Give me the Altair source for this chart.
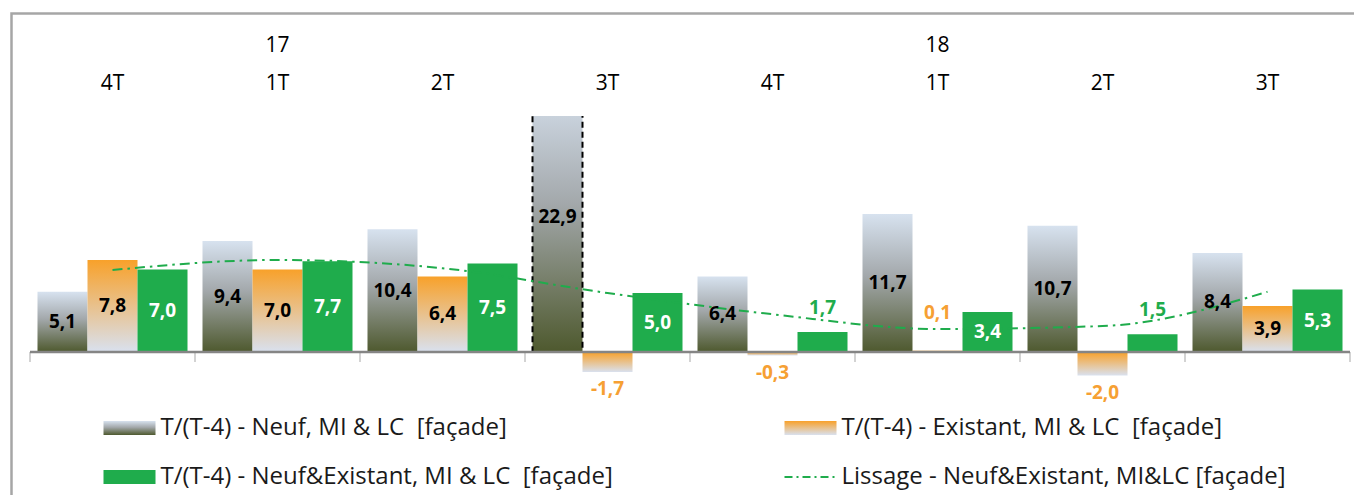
import altair as alt
import pandas as pd

# ---------------- data ----------------
CATEGORIES = ["16 4T", "17 1T", "17 2T", "17 3T", "17 4T", "18 1T", "18 2T", "18 3T"]
YEAR_LABELS = ["", "17", "", "", "", "18", "", ""]
SERIES = [
    "T/(T-4) - Neuf, MI & LC\u00a0 [façade]",
    "T/(T-4) - Existant, MI & LC\u00a0 [façade]",
    "T/(T-4) - Neuf&Existant, MI & LC\u00a0 [façade]",
]
LINE_LABEL = "Lissage - Neuf&Existant, MI&LC [façade]"
NEUF = [5.1, 9.4, 10.4, 22.9, 6.4, 11.7, 10.7, 8.4]
EXISTANT = [7.8, 7.0, 6.4, -1.7, -0.3, 0.1, -2.0, 3.9]
NEUF_EXISTANT = [7.0, 7.7, 7.5, 5.0, 1.7, 3.4, 1.5, 5.3]
LISSAGE = [6.95, 7.8, 7.1, 5.0, 3.2, 1.95, 2.2, 5.1]
Y_MIN, Y_MAX = -2.5, 20

LEGEND_LABELS = [SERIES[0], SERIES[1], SERIES[2], LINE_LABEL]

# ---------------- styles ----------------
FONT = "Open Sans"
GREEN = "#1fac4c"
ORANGE = "#f6a033"
GRAY_GRAD = alt.LinearGradient(
    gradient="linear", x1=0, x2=0, y1=0, y2=1,
    stops=[alt.GradientStop(color="#d7e2ef", offset=0),
           alt.GradientStop(color="#a3a8ab", offset=0.45),
           alt.GradientStop(color="#4e592e", offset=1)])
ORANGE_GRAD = alt.LinearGradient(
    gradient="linear", x1=0, x2=0, y1=0, y2=1,
    stops=[alt.GradientStop(color="#f8a12a", offset=0),
           alt.GradientStop(color="#d9e1ef", offset=1)])
RECT_PATH = "M-1,-0.27L1,-0.27L1,0.27L-1,0.27Z"
LINE_PATH = "M-1,0L1,0"

# legend / year-label layout (pixels relative to plot origin)
LEG_COL_X = [99.5, 780.5]
LEG_ROW_Y = [312, 361]
LEG_SLOTS = [(0, 0), (1, 0), (0, 1), (1, 1)]
YEAR_ROW_Y = -70

# ---------------- tables ----------------
rows = []
for s, vals in zip(SERIES, [NEUF, EXISTANT, NEUF_EXISTANT]):
    for c, v in zip(CATEGORIES, vals):
        rows.append({"cat": c, "series": s, "value": v})
bars = pd.DataFrame(rows)
line_df = pd.DataFrame({"cat": CATEGORIES, "value": LISSAGE})
cat_df = pd.DataFrame({"cat": CATEGORIES, "year": YEAR_LABELS, "zero": [0] * len(CATEGORIES)})
one = pd.DataFrame({"z": [0]})
legend_df = pd.DataFrame({"label": LEGEND_LABELS})

x_axis = alt.Axis(orient="top", title=None, domain=False, ticks=False, grid=False,
                  labelFont=FONT, labelFontSize=21, labelColor="#000000",
                  labelPadding=23, labelAngle=0,
                  labelExpr="slice(datum.label, 3)")
x_scale = alt.Scale(domain=CATEGORIES, paddingInner=0, paddingOuter=0)
X = alt.X("cat:N", scale=x_scale, axis=x_axis)
XO = alt.XOffset("series:N", scale=alt.Scale(domain=SERIES, paddingInner=0, paddingOuter=0.15))
y_scale = alt.Scale(domain=[Y_MIN, Y_MAX])
Y = alt.Y("value:Q", scale=y_scale, axis=None)

base = alt.Chart(bars)

frame = alt.Chart(one).mark_rect(fillOpacity=0, stroke="#a6a6a6", strokeWidth=2.5).encode(
    x=alt.value(-18.5), x2=alt.value(1400), y=alt.value(-102.5), y2=alt.value(600))

gray_bars = base.transform_filter(alt.datum.series == SERIES[0]).mark_bar(
    clip=True, fill=GRAY_GRAD).encode(x=X, xOffset=XO, y=Y)
outline = base.transform_filter(
    (alt.datum.series == SERIES[0]) & (alt.datum.value > Y_MAX)).mark_bar(
    clip=True, fillOpacity=0, stroke="#000000", strokeWidth=2, strokeDash=[6, 4]).encode(
    x=X, xOffset=XO, y=Y)
orange_bars = base.transform_filter(alt.datum.series == SERIES[1]).mark_bar(
    clip=True, fill=ORANGE_GRAD).encode(x=X, xOffset=XO, y=Y)
green_bars = base.transform_filter(alt.datum.series == SERIES[2]).mark_bar(
    clip=True, fill=GREEN).encode(x=X, xOffset=XO, y=Y)

zero = alt.Chart(one).mark_rule(color="#858585", strokeWidth=2.5).encode(
    y=alt.Y("z:Q", scale=y_scale, axis=None))
Y_ZERO = alt.Y("zero:Q", scale=y_scale, axis=None)
ticks = alt.Chart(cat_df).mark_tick(
    color="#858585", thickness=1, size=10, orient="vertical", yOffset=5).encode(
    x=alt.X("cat:N", scale=x_scale, axis=x_axis, bandPosition=0), y=Y_ZERO)
ticks_last = alt.Chart(cat_df).transform_filter(
    alt.datum.cat == CATEGORIES[-1]).mark_tick(
    color="#858585", thickness=1, size=10, orient="vertical", yOffset=5).encode(
    x=alt.X("cat:N", scale=x_scale, axis=x_axis, bandPosition=1), y=Y_ZERO)

years = alt.Chart(cat_df).transform_filter(alt.datum.year != "").mark_text(
    font=FONT, fontSize=21, color="#000000", baseline="middle", align="center").encode(
    x=X, y=alt.value(YEAR_ROW_Y), text="year:N")

smooth = alt.Chart(line_df).mark_line(
    interpolate="monotone", color=GREEN, strokeWidth=2, strokeDash=[10, 5, 2.5, 5]).encode(
    x=X, y=Y)

lab = base.transform_calculate(
    label="replace(replace(format(datum.value, '.1f'), '.', ','), '\u2212', '-')")
txt = dict(font=FONT, fontWeight="bold", fontSize=19, baseline="middle", align="center")
inside = lab.transform_filter(alt.datum.value >= 3).transform_calculate(mid="datum.value / 2")
Y_MID = alt.Y("mid:Q", scale=y_scale, axis=None)
text_in_dark = inside.transform_filter(alt.datum.series != SERIES[2]).mark_text(
    color="#000000", **txt).encode(x=X, xOffset=XO, y=Y_MID, text="label:N")
text_in_white = inside.transform_filter(alt.datum.series == SERIES[2]).mark_text(
    color="#ffffff", **txt).encode(x=X, xOffset=XO, y=Y_MID, text="label:N")
above = lab.transform_filter((alt.datum.value >= 0) & (alt.datum.value < 3))
text_above_o = above.transform_filter(alt.datum.series == SERIES[1]).mark_text(
    dy=-38, color=ORANGE, **txt).encode(x=X, xOffset=XO, y=Y, text="label:N")
text_above_g = above.transform_filter(alt.datum.series == SERIES[2]).mark_text(
    dy=-24, color=GREEN, **txt).encode(x=X, xOffset=XO, y=Y, text="label:N")
text_below = lab.transform_filter(alt.datum.value < 0).mark_text(
    dy=17, color=ORANGE, **txt).encode(x=X, xOffset=XO, y=Y, text="label:N")

# ---------------- legend ----------------
lbase = alt.Chart(legend_df)
sym_marks = [
    dict(shape=RECT_PATH, size=2704, filled=True, fill=GRAY_GRAD, strokeWidth=0, opacity=1),
    dict(shape=RECT_PATH, size=2704, filled=True, fill=ORANGE_GRAD, strokeWidth=0, opacity=1),
    dict(shape=RECT_PATH, size=2704, filled=True, fill=GREEN, strokeWidth=0, opacity=1),
    dict(shape=LINE_PATH, size=2704, filled=False, stroke=GREEN, strokeWidth=2,
         strokeDash=[8, 4, 2, 4], opacity=1),
]
legend_layers = []
for lbl, (ci, ri), mk in zip(LEGEND_LABELS, LEG_SLOTS, sym_marks):
    f = lbase.transform_filter(alt.datum.label == lbl)
    legend_layers.append(f.mark_point(**mk).encode(
        x=alt.value(LEG_COL_X[ci]), y=alt.value(LEG_ROW_Y[ri])))
    legend_layers.append(f.mark_text(align="left", baseline="middle", dx=31, font=FONT,
                                     fontSize=24, color="#1a1a1a").encode(
        x=alt.value(LEG_COL_X[ci]), y=alt.value(LEG_ROW_Y[ri]), text="label:N"))

chart = alt.layer(frame, gray_bars, outline, orange_bars, green_bars, zero, ticks,
                  ticks_last, years, smooth, text_in_dark, text_in_white, text_above_o,
                  text_above_g, text_below, *legend_layers).properties(
    width=1320, height=265.5,
    padding={"left": 22, "top": 108, "right": 4, "bottom": 113},
    autosize=alt.AutoSizeParams(type="none"),
).configure_view(strokeWidth=0)

chart.save("out.html", embed_options={"renderer": "svg", "actions": False})
